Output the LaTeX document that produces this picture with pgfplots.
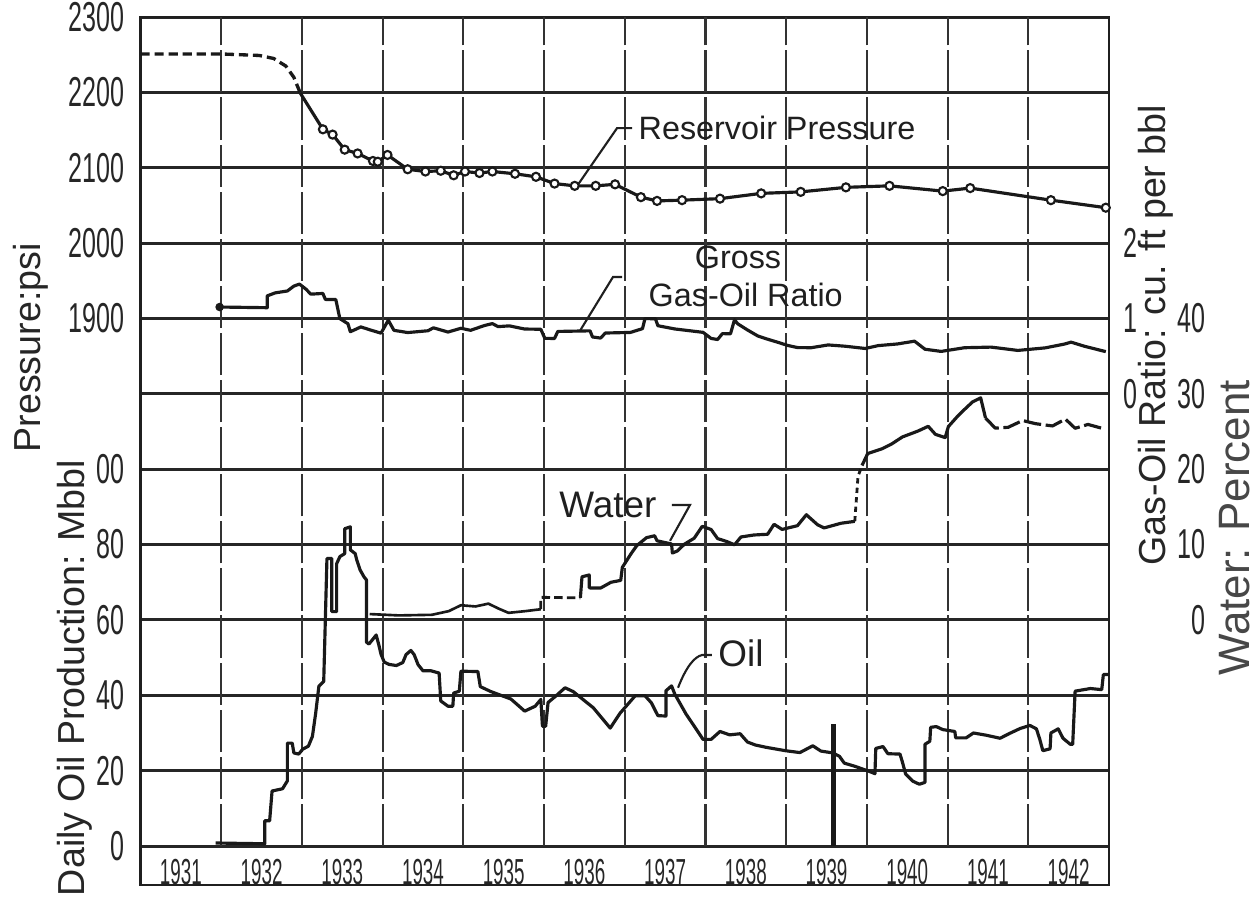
\documentclass[border=0pt]{standalone}
\usepackage{fontspec}
\setmainfont{Liberation Sans}
\usepackage{graphicx}
\usepackage{pgfplots}
\usepackage{pgfplotstable}
\pgfplotsset{compat=1.18}

\newcommand{\tk}[1]{\scalebox{0.6}[1]{#1}}
\newcommand{\yr}[1]{\scalebox{0.52}[1]{#1}}
\newcommand{\tkfont}{\fontsize{11.9}{12}\selectfont}

% Reservoir pressure, psi
\pgfplotstableread{
x p
1931.00 2251
1932.00 2251
1932.47 2249
1932.65 2245
1932.80 2235
1932.90 2220
1932.98 2199
}\pressdash
\pgfplotstableread{
x p
1932.98 2199
1933.26 2151
1933.38 2144
1933.53 2124
1933.69 2119
1933.88 2109
1933.94 2108
1934.06 2117
1934.31 2098
1934.53 2095
1934.72 2096
1934.88 2090
1935.02 2095
1935.20 2093
1935.36 2095
1935.64 2092
1935.90 2088
1936.13 2079
1936.38 2076
1936.64 2076
1936.88 2078
1937.20 2061
1937.40 2056
1937.71 2057
1938.18 2059
1938.69 2066
1939.18 2068
1939.74 2074
1940.28 2076
1940.94 2069
1941.28 2073
1942.28 2057
1942.96 2047
}\press

% Gross gas-oil ratio
\pgfplotstableread{
x g
1931.98 1.152
1932.57 1.143
1932.57 1.300
1932.67 1.340
1932.82 1.365
1932.90 1.430
1932.97 1.456
1933.05 1.389
1933.11 1.323
1933.26 1.332
1933.29 1.253
1933.42 1.251
1933.47 0.998
1933.57 0.930
1933.60 0.824
1933.73 0.888
1933.85 0.847
1933.98 0.805
1934.07 0.977
1934.14 0.843
1934.31 0.813
1934.56 0.837
1934.63 0.876
1934.81 0.820
1934.97 0.870
1935.09 0.843
1935.26 0.906
1935.36 0.932
1935.43 0.892
1935.57 0.902
1935.76 0.860
1935.96 0.857
1936.01 0.736
1936.13 0.735
1936.17 0.828
1936.57 0.836
1936.60 0.755
1936.70 0.740
1936.76 0.807
1937.07 0.815
1937.22 0.865
1937.25 0.998
1937.38 0.997
1937.41 0.904
1937.62 0.861
1937.97 0.816
1938.07 0.735
1938.15 0.721
1938.21 0.799
1938.31 0.797
1938.36 0.983
1938.40 0.929
1938.52 0.848
1938.65 0.767
1938.77 0.725
1938.90 0.683
1939.02 0.642
1939.14 0.614
1939.31 0.612
1939.52 0.649
1939.73 0.632
1939.98 0.602
1940.14 0.640
1940.38 0.662
1940.59 0.699
1940.72 0.592
1940.92 0.563
1941.21 0.612
1941.54 0.620
1941.87 0.576
1942.21 0.610
1942.45 0.661
1942.53 0.686
1942.70 0.630
1942.96 0.560
}\gor

% Water, percent
\pgfplotstableread{
x w
1933.84 0.78
1934.20 0.60
1934.61 0.68
1934.82 1.17
1934.97 1.95
1935.15 1.79
1935.31 2.16
1935.44 1.49
1935.56 0.94
1935.77 1.17
1935.96 1.42
}\waterA
\pgfplotstableread{
x w
1935.96 1.42
1935.96 3.00
1936.45 2.93
}\waterB
\pgfplotstableread{
x w
1936.45 2.93
1936.47 5.72
1936.56 5.97
1936.56 4.25
1936.70 4.23
1936.83 5.00
1936.95 5.25
1936.97 6.98
1937.08 8.82
1937.15 9.87
1937.27 10.92
1937.37 11.17
1937.40 10.50
1937.58 10.08
1937.59 8.88
1937.65 9.14
1937.74 10.06
1937.86 10.84
1937.96 12.42
1938.07 12.00
1938.15 10.80
1938.27 10.38
1938.36 9.97
1938.44 11.01
1938.60 11.27
1938.77 11.37
1938.85 12.69
1938.95 12.01
1939.14 12.51
1939.25 13.96
1939.39 12.62
1939.47 12.21
1939.68 12.83
1939.85 13.08
}\waterC
\pgfplotstableread{
x w
1939.85 13.08
1939.89 19.04
1939.94 20.50
}\waterD
\pgfplotstableread{
x w
1939.94 20.50
1940.01 22.08
1940.19 22.72
1940.31 23.37
1940.44 24.28
1940.63 25.05
1940.76 25.69
1940.85 24.62
1940.97 24.20
1941.01 25.66
1941.12 26.98
1941.18 27.63
1941.31 28.94
1941.41 29.46
1941.47 26.79
}\waterE
\pgfplotstableread{
x w
1941.47 26.79
1941.59 25.45
1941.75 25.56
1941.93 26.46
1942.09 26.04
1942.30 25.74
1942.46 26.65
1942.58 25.43
1942.74 25.94
1942.93 25.38
}\waterF

% Daily oil production, Mbbl
\pgfplotstableread{
x o
1931.93 0.8
1932.54 0.6
1932.54 6.7
1932.60 6.7
1932.63 14.6
1932.76 15.2
1932.82 17.3
1932.82 27.3
1932.88 27.3
1932.90 24.7
1932.96 24.4
1933.01 25.7
1933.08 26.5
1933.13 29.1
1933.17 35.2
1933.21 42.4
1933.27 43.7
1933.31 76.3
1933.37 76.3
1933.37 62.2
1933.43 62.2
1933.43 74.9
1933.47 76.8
1933.53 77.6
1933.53 84.2
1933.60 84.7
1933.60 78.6
1933.66 77.6
1933.68 75.9
1933.72 73.3
1933.77 71.4
1933.80 70.6
1933.80 54.1
1933.83 53.6
1933.88 54.9
1933.92 56.0
1933.95 53.6
1933.98 50.9
1934.02 48.8
1934.08 48.2
1934.17 47.9
1934.25 48.7
1934.29 50.8
1934.35 51.9
1934.39 50.8
1934.44 48.1
1934.50 46.5
1934.60 46.5
1934.70 45.9
1934.72 38.5
1934.81 37.1
1934.87 37.1
1934.88 40.6
1934.95 41.1
1934.97 46.4
1935.18 46.3
1935.21 42.3
1935.34 41.0
1935.59 39.0
1935.76 35.8
1935.89 37.1
1935.96 38.9
1935.98 31.8
1936.02 31.8
1936.05 38.1
1936.14 39.7
1936.26 42.0
1936.36 41.0
1936.61 36.7
1936.82 31.3
1936.94 35.2
1937.13 39.9
1937.25 39.9
1937.33 38.0
1937.41 34.6
1937.51 34.5
1937.51 41.2
1937.58 42.5
1937.62 40.3
1937.76 35.0
1937.88 31.2
1937.97 28.3
1938.07 28.3
1938.18 30.4
1938.30 29.5
1938.43 29.8
1938.52 27.6
1938.62 26.8
1938.75 26.2
1938.99 25.3
1939.17 24.8
1939.33 26.6
1939.43 25.2
1939.58 24.7
1939.66 23.8
1939.72 22.0
1939.86 21.1
1940.03 19.8
1940.10 19.2
1940.11 25.9
1940.20 26.4
1940.26 24.5
1940.41 24.4
1940.44 22.3
1940.48 19.1
1940.57 17.2
1940.65 16.4
1940.72 16.9
1940.72 27.0
1940.78 27.8
1940.79 31.5
1940.86 31.7
1940.94 30.9
1941.09 30.4
1941.10 28.7
1941.23 28.7
1941.32 30.0
1941.48 29.4
1941.65 28.6
1941.77 29.9
1941.90 31.2
1942.02 32.0
1942.10 31.1
1942.14 28.5
1942.18 25.3
1942.27 25.8
1942.28 30.0
1942.37 31.1
1942.43 28.6
1942.52 27.0
1942.55 27.0
1942.58 41.1
1942.77 41.8
1942.91 41.5
1942.93 45.5
1943.00 45.5
}\oil

\begin{document}
\begin{tikzpicture}
\begin{axis}[
  scale only axis, width=96.85mm, height=86.8mm,
  xmin=1931, xmax=1943, ymin=-10.35, ymax=220,
  clip=false,
  axis line style={line width=0.75pt, black!88},
  ytick={0,20,40,60,80,100,120,140,160,180,200,220},
  yticklabels={\tk{0},\tk{20},\tk{40},\tk{60},\tk{80},\tk{00},{},\tk{1900},\tk{2000},\tk{2100},\tk{2200},\tk{2300}},
  ymajorgrids,
  major grid style={line width=0.85pt, black!85},
  xtick={1931.5,1932.5,1933.5,1934.5,1935.5,1936.5,1937.5,1938.5,1939.5,1940.5,1941.5,1942.5},
  xticklabels={\yr{1931},\yr{1932},\yr{1933},\yr{1934},\yr{1935},\yr{1936},\yr{1937},\yr{1938},\yr{1939},\yr{1940},\yr{1941},\yr{1942}},
  major tick length=0pt,
  yticklabel style={font=\tkfont, text=black!85, inner sep=0pt, xshift=-1.5mm},
  xticklabel style={font=\fontsize{10.3}{10}\selectfont, text=black!85, anchor=center, yshift=1.25mm},
  curve/.style={black!90, line width=0.9pt, line join=round},
]
% vertical grid lines (stop at the zero line)
\pgfplotsinvokeforeach{1932,1933,1934,1935,1936,1937,1938,1939,1940,1941,1942}{
  \draw[black!80, line width=0.6pt, dash pattern=on 12pt off 1.4pt] (axis cs:#1,0) -- (axis cs:#1,220);
}

% Reservoir pressure
\addplot[black!90, line width=0.95pt, dash pattern=on 2.6pt off 1.4pt] table[x=x, y expr={140+(\thisrow{p}-1900)/5}] {\pressdash};
\addplot[curve] table[x=x, y expr={140+(\thisrow{p}-1900)/5}] {\press};
\addplot[only marks, mark=*, mark size=1.15pt, mark options={fill=white, draw=black!90, line width=0.6pt},
  skip coords between index={0}{1}] table[x=x, y expr={140+(\thisrow{p}-1900)/5}] {\press};

% Gross gas-oil ratio
\addplot[curve] table[x=x, y expr={120+20*\thisrow{g}}] {\gor};
\addplot[only marks, mark=*, mark size=1pt, black!90] coordinates {(1931.98,143.04)};

% Water
\addplot[curve, line width=0.75pt] table[x=x, y expr={60+2*\thisrow{w}}] {\waterA};
\addplot[curve, line width=0.8pt, dash pattern=on 2.4pt off 1.2pt] table[x=x, y expr={60+2*\thisrow{w}}] {\waterB};
\addplot[curve] table[x=x, y expr={60+2*\thisrow{w}}] {\waterC};
\addplot[curve, line width=0.8pt, dash pattern=on 1.5pt off 1.2pt] table[x=x, y expr={60+2*\thisrow{w}}] {\waterD};
\addplot[curve] table[x=x, y expr={60+2*\thisrow{w}}] {\waterE};
\addplot[curve, dash pattern=on 5pt off 1.3pt] table[x=x, y expr={60+2*\thisrow{w}}] {\waterF};

% Oil
\addplot[curve] table[x=x, y=o] {\oil};
\addplot[black!90, line width=1.5pt] coordinates {(1939.59,0) (1939.59,32.5)};

% right-hand scales: gas-oil ratio
\node[inner sep=0pt, font=\tkfont, text=black!85] at (axis cs:1943.272,160) {\tk{2}};
\node[inner sep=0pt, font=\tkfont, text=black!85] at (axis cs:1943.272,140) {\tk{1}};
\node[inner sep=0pt, font=\tkfont, text=black!85] at (axis cs:1943.272,120) {\tk{0}};
% right-hand scales: water percent
\node[anchor=east, inner sep=0pt, font=\tkfont, text=black!85] at (axis cs:1944.202,140) {\tk{40}};
\node[anchor=east, inner sep=0pt, font=\tkfont, text=black!85] at (axis cs:1944.202,120) {\tk{30}};
\node[anchor=east, inner sep=0pt, font=\tkfont, text=black!85] at (axis cs:1944.202,100) {\tk{20}};
\node[anchor=east, inner sep=0pt, font=\tkfont, text=black!85] at (axis cs:1944.202,80) {\tk{10}};
\node[anchor=east, inner sep=0pt, font=\tkfont, text=black!85] at (axis cs:1944.202,60) {\tk{0}};

% axis titles
\node[rotate=90, inner sep=0pt, font=\fontsize{10.7}{11}\selectfont, text=black!85] at (axis cs:1929.643,132.2) {Pressure:psi};
\node[rotate=90, inner sep=0pt, font=\fontsize{10.7}{11}\selectfont, text=black!85] at (axis cs:1930.188,44.6) {Daily Oil Production: Mbbl};
\node[rotate=90, inner sep=0pt, font=\fontsize{10.7}{11}\selectfont, text=black!85] at (axis cs:1943.582,135.6) {Gas-Oil Ratio: cu. ft per bbl};
\node[rotate=90, inner sep=0pt, font=\fontsize{12.5}{13}\selectfont, text=black!72] at (axis cs:1944.561,84.4) {Water: Percent};

% curve annotations
\node[anchor=west, inner sep=0pt, font=\fontsize{9.2}{9}\selectfont, text=black!88] at (axis cs:1937.164,190.5) {Reservoir Pressure};
\node[font=\fontsize{9.2}{9}\selectfont, text=black!88] at (axis cs:1938.403,156.1) {Gross};
\node[anchor=west, inner sep=0pt, font=\fontsize{9.2}{9}\selectfont, text=black!88] at (axis cs:1937.288,146.2) {Gas-Oil Ratio};
\node[font=\fontsize{10.5}{10}\selectfont, text=black!88] at (axis cs:1936.792,90.5) {Water};
\node[font=\fontsize{10.5}{10}\selectfont, text=black!88] at (axis cs:1938.44,51.2) {Oil};

% leader lines
\draw[black!88, line width=0.6pt] (axis cs:1936.42,175.5) -- (axis cs:1936.904,190.5) -- (axis cs:1937.09,190.5);
\draw[black!88, line width=0.6pt] (axis cs:1936.45,136.9) -- (axis cs:1936.854,151.0) -- (axis cs:1936.966,151.0);
\draw[black!88, line width=0.6pt] (axis cs:1937.585,90.5) -- (axis cs:1937.808,90.5) -- (axis cs:1937.561,81.0);
\draw[black!88, line width=0.6pt] (axis cs:1937.66,42.0) .. controls (axis cs:1937.76,47.5) and (axis cs:1937.86,50.2) .. (axis cs:1937.958,50.7) -- (axis cs:1938.08,50.7);

% picture extent
\path (axis cs:1929.259,-13.80) rectangle (axis cs:1944.809,224.52);
\end{axis}
\end{tikzpicture}
\end{document}
